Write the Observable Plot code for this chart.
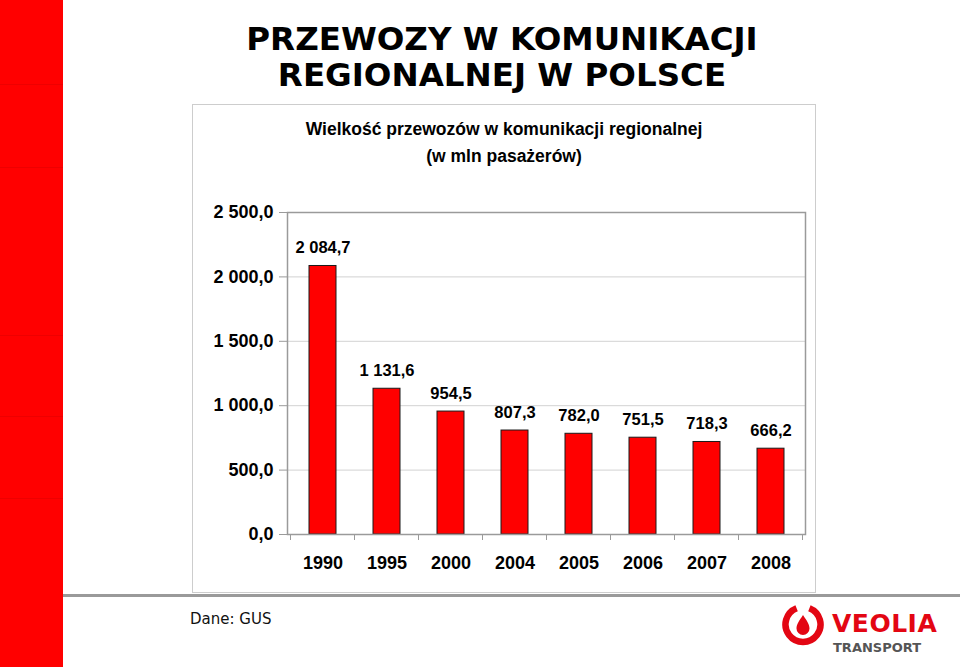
<!DOCTYPE html>
<html>
<head>
<meta charset="utf-8">
<script src="https://cdn.jsdelivr.net/npm/d3@7"></script>
<script src="https://cdn.jsdelivr.net/npm/@observablehq/plot@0.6"></script>
<style>
  html, body { margin: 0; padding: 0; background: #fff; }
  #page { position: relative; width: 960px; height: 667px; overflow: hidden; background: #fff; }
  .abs { position: absolute; }
  #band { left: 0; top: 0; width: 63px; height: 667px; background: #ff0000; }
  .bandline { position: absolute; left: 0; width: 63px; height: 1px; background: #ee0000; }
  #title { left: 63px; width: 878px; top: 21px; text-align: center; font-family: "DejaVu Sans", Verdana, sans-serif;
           font-weight: bold; font-size: 32.5px; line-height: 36px; color: #000; }
  #box { left: 193px; top: 105px; width: 622px; height: 487px; outline: 1px solid #cdcdcd; }
  #subtitle { left: 0; top: 11px; width: 622px; text-align: center; font-family: "Liberation Sans", Arial, sans-serif;
              font-weight: bold; font-size: 17.5px; line-height: 27px; color: #000; }
  #chart { left: 0; top: 0; }
  #rule { left: 63px; top: 594px; width: 897px; height: 3px; background: #9a9a9a; }
  #source { left: 190px; top: 610px; font-family: "DejaVu Sans", Verdana, sans-serif; font-size: 15px; color: #111; }
  #logo { left: 781px; top: 603px; }
  #veolia { left: 832px; top: 609px; font-family: "DejaVu Sans", Verdana, sans-serif; font-weight: bold; font-size: 25px; color: #e30613; letter-spacing: 0.5px; }
  #transport { left: 833px; top: 640px; font-family: "DejaVu Sans", Verdana, sans-serif; font-weight: bold; font-size: 13px; color: #555; }
</style>
</head>
<body>
<div id="page">
  <div id="band" class="abs"></div>
  <div class="bandline" style="top:84px"></div>
  <div class="bandline" style="top:167px"></div>
  <div class="bandline" style="top:335px"></div>
  <div class="bandline" style="top:416px"></div>
  <div class="bandline" style="top:498px"></div>
  <div id="title" class="abs">PRZEWOZY W KOMUNIKACJI<br>REGIONALNEJ W POLSCE</div>
  <div id="rule" class="abs"></div>
  <div id="box" class="abs">
    <div id="chart" class="abs"></div>
    <div id="subtitle" class="abs">Wielkość przewozów w komunikacji regionalnej<br>(w mln pasażerów)</div>
  </div>
  <div id="source" class="abs">Dane: GUS</div>
  <svg id="logo" class="abs" width="44" height="44" viewBox="0 0 44 44">
    <path d="M15.6 5.2 A17.5 17.5 0 1 0 28.4 5.2" fill="none" stroke="#e30613" stroke-width="6.5" stroke-linecap="butt"/>
    <path d="M22 12 C26 18 28.5 21.5 28.5 25.5 A6.5 6.5 0 0 1 15.5 25.5 C15.5 21.5 18 18 22 12 Z" fill="#e30613"/>
  </svg>
  <div id="veolia" class="abs">VEOLIA</div>
  <div id="transport" class="abs">TRANSPORT</div>
</div>
<script>
// ---- data ----
const years = ["1990", "1995", "2000", "2004", "2005", "2006", "2007", "2008"];
const passengers = [2084.7, 1131.6, 954.5, 807.3, 782.0, 751.5, 718.3, 666.2];
const yTicks = [0, 500, 1000, 1500, 2000, 2500];
const yMax = 2500;

const data = years.map((year, i) => ({year, value: passengers[i]}));

// Polish number format: "2 084,7"
function fmt(v) {
  const [i, f] = v.toFixed(1).split(".");
  return i.replace(/\B(?=(\d{3})+$)/g, " ") + "," + f;
}

// category separator ticks under the x axis, from the band scale
function bandTicks(index, scales, values, dimensions) {
  const x = scales.x;
  const step = typeof x.step === "function" ? x.step() : (x(years[1]) - x(years[0]));
  const bw = typeof x.bandwidth === "function" ? x.bandwidth() : step * 0.42;
  const y0 = dimensions.height - dimensions.marginBottom;
  const g = d3.create("svg:g").attr("stroke", "#9a9a9a").attr("stroke-width", 1);
  const edges = years.map(yr => x(yr) - (step - bw) / 2);
  edges.push(edges[edges.length - 1] + step);
  for (const e of edges) {
    g.append("line").attr("x1", e).attr("x2", e).attr("y1", y0).attr("y2", y0 + 6);
  }
  return g.node();
}

const chart = Plot.plot({
  width: 622,
  height: 487,
  marginLeft: 94,
  marginRight: 10,
  marginTop: 107,
  marginBottom: 58,
  style: {
    fontFamily: '"Liberation Sans", Arial, sans-serif',
    fontWeight: "bold",
    fontSize: "18px",
    color: "#000",
    background: "transparent",
    overflow: "visible"
  },
  x: {domain: years, paddingInner: 0.58, paddingOuter: 0.29, label: null},
  y: {domain: [0, yMax], label: null},
  marks: [
    Plot.ruleY(yTicks.filter(d => d > 0 && d < yMax), {stroke: "#d2d2d2", strokeWidth: 1}),
    Plot.barY(data, {x: "year", y: "value", fill: "#ff0000", stroke: "#1a1a1a", strokeWidth: 1}),
    Plot.text(data, {x: "year", y: "value", text: d => fmt(d.value), dy: -12.5, lineAnchor: "bottom",
                     fontSize: 16.5, fontWeight: "bold", fill: "#000"}),
    Plot.frame({stroke: "#9a9a9a", strokeWidth: 1.5}),
    Plot.axisY({ticks: yTicks, tickFormat: fmt, tickSize: 8, tickPadding: 6, stroke: "#9a9a9a", fill: "#000", fontSize: 18}),
    Plot.axisX({tickSize: 0, tickPadding: 22, fill: "#000", fontSize: 18}),
    bandTicks
  ]
});
document.getElementById("chart").appendChild(chart);
</script>
</body>
</html>
